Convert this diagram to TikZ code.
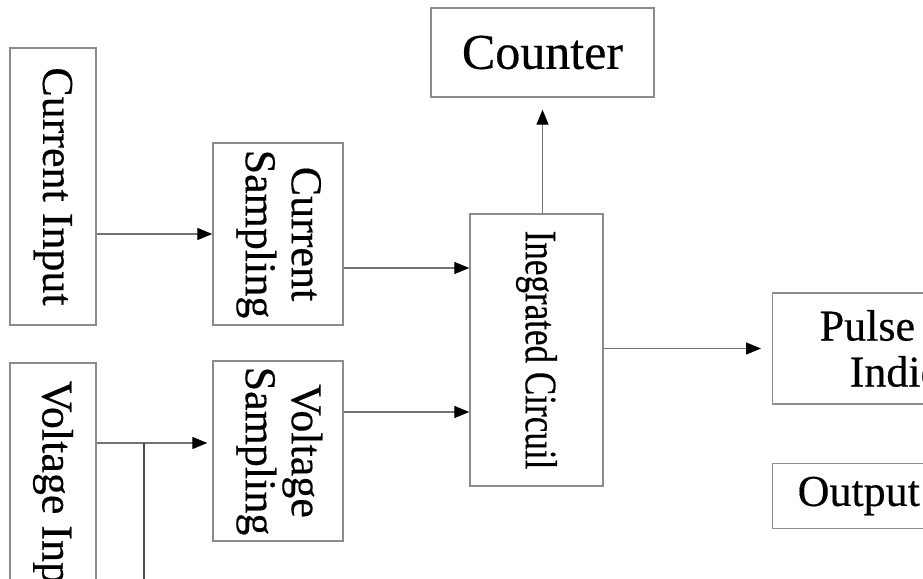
\documentclass[tikz,border=0pt]{standalone}
\usepackage{fontspec}
\setmainfont{Liberation Serif}[FakeBold=0.4]
\usepackage{graphicx}
\usetikzlibrary{arrows.meta, positioning}

\begin{document}
\begin{tikzpicture}[
  x=1pt, y=1pt,
  block/.style={draw=black!45, line width=1.4pt, inner sep=0pt, font=\fontsize{44}{46}\selectfont},
  flow/.style={draw=black!55, line width=1.3pt, -{Triangle[length=15pt, width=12pt, color=black]}},
  wire/.style={draw=black!70, line width=1.3pt}
]
\useasboundingbox (0,0) rectangle (923,-578);
\clip (0,0) rectangle (923,-578);

% Inputs
\node[block, minimum width=86, minimum height=277] (CI) at (53,-186.5) {\rotatebox{-90}{Current Input}};
\node[block, minimum width=86, minimum height=273] (VI) at (53,-499.5) {\rotatebox{-90}{Voltage Input}};

% Sampling
\node[block, minimum width=130, minimum height=182] (CS) at (278,-234)
  {\rotatebox{-90}{\begin{tabular}{@{}c@{}}Current\\Sampling\end{tabular}}};
\node[block, minimum width=130, minimum height=180] (VS) at (278,-451)
  {\rotatebox{-90}{\begin{tabular}{@{}c@{}}Voltage\\Sampling\end{tabular}}};

% Circuit and counter
\node[block, minimum width=133, minimum height=272, font=\fontsize{45}{47}\selectfont] (IC) at (536.5,-350)
  {\rotatebox{-90}{\scalebox{0.78}[1]{Inegrated Circuil}}};
\node[block, minimum width=223, minimum height=89, font=\fontsize{50}{55}\selectfont] (CT) at (542.5,-52.5) {Counter};

% Outputs
\node[block, anchor=west, inner xsep=47, minimum height=111, align=center] (PI) at (772,-348.5) {Pulse Signal\\Indicator};
\node[block, anchor=west, inner xsep=25, minimum height=65] (OP) at (772,-496) {Output Port};

% Branch point
\coordinate (vbr) at (144,-443);
\coordinate (vend) at (144,-620);

% Connections
\draw[flow] (CI.east |- CS.west) -- (CS.west);
\draw[flow, shorten >=5pt] (VI.east |- vbr) -- (VS.west |- vbr);
\draw[wire] (vbr) -- (vend);
\draw[flow] (CS.east |- 0,-268) -- (IC.west |- 0,-268);
\draw[flow] (VS.east |- 0,-412) -- (IC.west |- 0,-412);
\draw[flow, shorten >=12pt] (CT.south |- IC.north) -- (CT.south);
\draw[flow, shorten >=11pt] (IC.east |- PI.west) -- (PI.west);

\end{tikzpicture}
\end{document}
